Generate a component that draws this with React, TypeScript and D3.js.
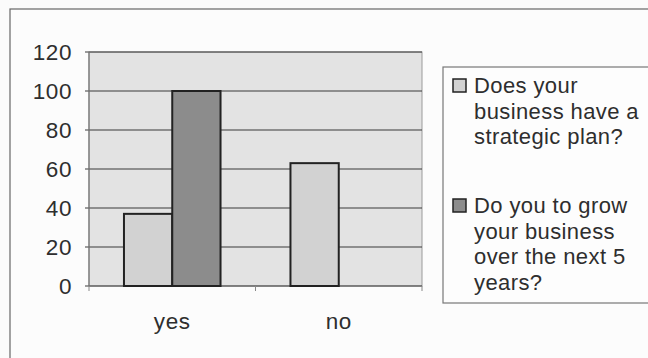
import React from "react";
import * as d3 from "d3";

// Survey answers per category
const categories = ["yes", "no"];
const seriesNames = [
  ["Does your", "business have a", "strategic plan?"],
  ["Do you to grow", "your business", "over the next 5", "years?"],
];
const planValues = [37, 63];
const growValues = [100, 0];
const yTicks = [0, 20, 40, 60, 80, 100, 120];

const W = 648;
const H = 358;
const plot = { left: 89, right: 422, top: 52, bottom: 286 };
const colors = ["#d2d2d2", "#8c8c8c"];
const font = "Liberation Sans, Arial, sans-serif";

export default function App() {
  const x = d3
    .scaleBand<string>()
    .domain(categories)
    .range([plot.left, plot.right])
    .paddingInner(0)
    .paddingOuter(0);
  const y = d3.scaleLinear().domain([0, 120]).range([plot.bottom, plot.top]);
  const groupW = x.bandwidth() * 0.58;
  const inner = d3
    .scaleBand<number>()
    .domain([0, 1])
    .range([0, groupW]);

  const series = [planValues, growValues];

  const legendLineH = 25.5;
  const legendStarts = [93, 213];

  return (
    <svg
      width={W}
      height={H}
      style={{ position: "absolute", left: 0, top: 0, background: "#fbfbfb" }}
      fontFamily={font}
    >
      {/* outer chart frame */}
      <rect x={10} y={9} width={700} height={400} fill="#fcfcfc" stroke="#666" strokeWidth={1.2} />

      {/* plot area */}
      <rect
        x={plot.left}
        y={plot.top}
        width={plot.right - plot.left}
        height={plot.bottom - plot.top}
        fill="#e3e3e3"
        stroke="#9a9a9a"
        strokeWidth={1}
      />

      {/* gridlines and y ticks */}
      {yTicks.map((t) => (
        <g key={t}>
          <line
            x1={plot.left - 4}
            x2={plot.right}
            y1={y(t)}
            y2={y(t)}
            stroke="#3a3a3a"
            strokeWidth={1.2}
          />
          <text
            x={72}
            y={y(t)}
            dy="0.36em"
            textAnchor="end"
            fontSize={22.5}
            letterSpacing={0.6}
            fill="#2e2e2e"
          >
            {t}
          </text>
        </g>
      ))}

      {/* y axis line */}
      <line x1={plot.left} x2={plot.left} y1={plot.top} y2={plot.bottom} stroke="#777" strokeWidth={1.2} />

      {/* category divider ticks */}
      {[...categories.map((c) => x(c) as number), plot.right].map((px, i) => (
        <line key={i} x1={px} x2={px} y1={plot.bottom} y2={plot.bottom + 5} stroke="#888" strokeWidth={1} />
      ))}

      {/* bars */}
      {categories.map((c, ci) => {
        const gx = (x(c) as number) + (x.bandwidth() - groupW) / 2;
        return series.map((vals, si) =>
          vals[ci] > 0 ? (
            <rect
              key={`${c}-${si}`}
              x={gx + (inner(si) as number)}
              y={y(vals[ci])}
              width={inner.bandwidth()}
              height={y(0) - y(vals[ci])}
              fill={colors[si]}
              stroke="#222"
              strokeWidth={2}
            />
          ) : null
        );
      })}

      {/* x category labels */}
      {categories.map((c) => (
        <text
          key={c}
          x={(x(c) as number) + x.bandwidth() / 2}
          y={329}
          textAnchor="middle"
          fontSize={22.5}
          letterSpacing={0.6}
          fill="#2e2e2e"
        >
          {c}
        </text>
      ))}

      {/* legend */}
      <rect x={443} y={67} width={260} height={236} fill="#fdfdfd" stroke="#777" strokeWidth={1.2} />
      {seriesNames.map((lines, si) => (
        <g key={si}>
          <rect
            x={453}
            y={legendStarts[si] - 14}
            width={13}
            height={13}
            fill={colors[si]}
            stroke="#222"
            strokeWidth={1.5}
          />
          <text x={474} y={legendStarts[si]} fontSize={22} letterSpacing={0.4} fill="#2e2e2e">
            {lines.map((ln, li) => (
              <tspan key={li} x={474} y={legendStarts[si] + li * legendLineH}>
                {ln}
              </tspan>
            ))}
          </text>
        </g>
      ))}
    </svg>
  );
}
